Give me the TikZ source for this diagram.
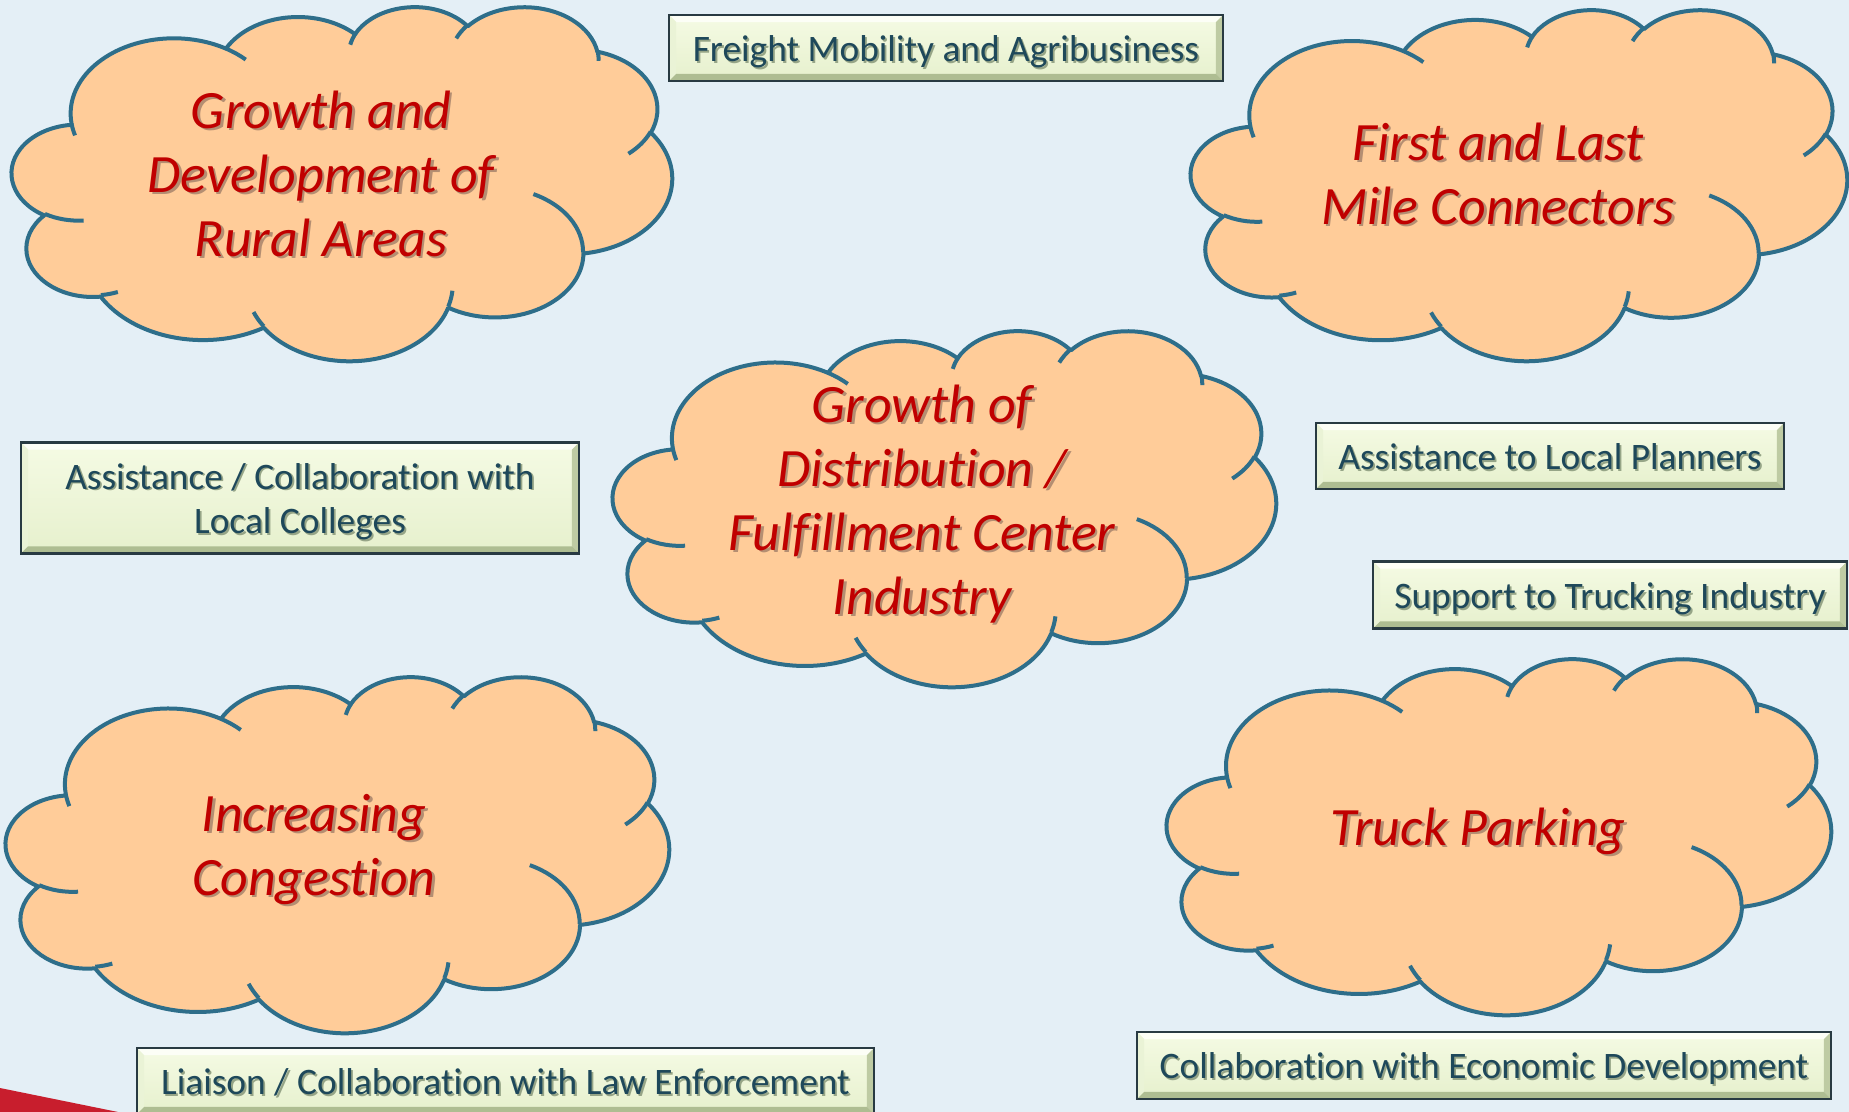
\documentclass[tikz,border=0pt]{standalone}
\usepackage{fontspec}
\setmainfont{Carlito}[Ligatures=NoCommon]
\usetikzlibrary{calc}

% colours
\definecolor{pagebg}{RGB}{228,239,246}
\definecolor{cloudfill}{RGB}{255,204,153}
\definecolor{cloudedge}{RGB}{46,110,138}
\definecolor{cloudtext}{RGB}{192,0,0}
\definecolor{cloudshade}{RGB}{180,142,114}
\definecolor{boxedge}{RGB}{40,58,66}
\definecolor{boxtext}{RGB}{30,72,90}
\definecolor{boxshade}{RGB}{150,165,135}
\definecolor{facetop}{RGB}{245,251,228}
\definecolor{facebot}{RGB}{230,240,205}
\definecolor{beveltop}{RGB}{252,254,246}
\definecolor{bevelleft}{RGB}{234,243,214}
\definecolor{bevelright}{RGB}{190,203,163}
\definecolor{bevelbot}{RGB}{174,189,146}
\definecolor{cornerred}{RGB}{200,30,45}

% one elliptic arc of the cloud outline; angles are measured on the ellipse
% (visual angles) and turned into parametric ones for TikZ
\newcommand\defcloudarc[5]{%
  \pgfmathsetmacro\cwr{(#2)/432}%
  \pgfmathsetmacro\chr{(#3)/432}%
  \pgfmathsetmacro\cta{atan2((#2)*sin(#4),(#3)*cos(#4))}%
  \pgfmathsetmacro\cte{atan2((#2)*sin((#4)+(#5)),(#3)*cos((#4)+(#5)))}%
  \pgfmathsetmacro\ctd{\cte-\cta}%
  \ifdim\ctd pt<0pt \pgfmathsetmacro\ctd{\ctd+360}\fi
  \expandafter\xdef\csname cloudarc#1\endcsname{arc[x radius=\cwr pt, y radius=\chr pt, start angle=\cta, delta angle=\ctd]}%
}
% outer outline
\defcloudarc{A}{6753}{9190}{-190.48748}{123.78053}
\defcloudarc{B}{5333}{7267}{-144.10238}{89.94523}
\defcloudarc{C}{4365}{5945}{-145.80792}{99.72302}
\defcloudarc{D}{4857}{6595}{-130.98607}{117.24173}
\defcloudarc{E}{5333}{7273}{-78.70888}{109.02692}
\defcloudarc{F}{6775}{9220}{-46.26725}{130.269}
\defcloudarc{G}{5785}{7867}{0.62502}{114.03333}
\defcloudarc{H}{6752}{9215}{22.4516}{115.17255}
\defcloudarc{I}{7720}{10543}{66.24263}{75.71102}
\defcloudarc{J}{4360}{5918}{-274.94208}{146.73557}
\defcloudarc{K}{4345}{5945}{-246.8285}{152.51885}
% inner puff strokes
\defcloudarc{a}{4345}{5945}{86.742}{26.4295}
\defcloudarc{b}{4360}{5918}{73.61047}{11.44747}
\defcloudarc{c}{6752}{9215}{137.62415}{14.0811}
\defcloudarc{d}{6752}{9215}{6.45327}{15.99835}
\defcloudarc{e}{5785}{7867}{-70.29235}{70.91737}
\defcloudarc{f}{5333}{7273}{30.31803}{27.7515}
\defcloudarc{g}{4857}{6595}{-13.74433}{14.8589}
\defcloudarc{h}{4857}{6595}{-149.18145}{18.19537}
\defcloudarc{i}{4365}{5945}{-163.49427}{17.68635}
\defcloudarc{j}{6753}{9190}{-66.70695}{12.31935}
\defcloudarc{k}{6753}{9190}{157.65435}{11.85817}

% cloud in a box: left, top, width, height (px)
\newcommand\drawcloud[4]{%
  \begin{scope}[shift={(#1,#2)}, xscale=#3/200, yscale=-#4/200]
    \filldraw[cloudbody] (9.0278pt,33.2639pt) \cloudarcA \cloudarcB \cloudarcC
      \cloudarcD \cloudarcE \cloudarcF \cloudarcG \cloudarcH \cloudarcI
      \cloudarcJ \cloudarcK -- cycle;
    \draw[cloudbody, fill=none]
      (10.8634pt,60.5949pt) \cloudarca
      (16.0370pt,80.7847pt) \cloudarcb
      (38.1435pt,90.4861pt) \cloudarcc
      (66.7292pt,80.4421pt) \cloudarcd
      (79.0023pt,53.1343pt) \cloudarce
      (96.7546pt,35.5417pt) \cloudarcf
      (88.7130pt,12.5602pt) \cloudarcg
      (67.3102pt,9.1481pt) \cloudarch
      (51.2523pt,10.9259pt) \cloudarci
      (32.4074pt,12.0185pt) \cloudarcj
      (9.5532pt,36.5486pt) \cloudarck;
  \end{scope}}

% text with a soft offset shadow; every line gets the same height and depth,
% and the glyphs sit a little below the strut's centre
\newcommand\shc[1]{\leavevmode\rule[-0.25em]{0pt}{0.89em}\raisebox{-0.12em}[0pt][0pt]{\rlap{\hspace{1.3pt}\raisebox{-1.3pt}{\textcolor{cloudshade}{#1}}}#1}}
\newcommand\shb[1]{\leavevmode\rule[-0.25em]{0pt}{0.89em}\raisebox{-0.165em}[0pt][0pt]{\rlap{\hspace{0.9pt}\raisebox{-0.9pt}{\textcolor{boxshade}{#1}}}#1}}

\newcommand\bv{3.6pt}
\def\ppb{path picture bounding box}

\tikzset{
  cloudbody/.style={draw=cloudedge, fill=cloudfill, line width=2pt, line join=round},
  cloudlabel/.style={text=cloudtext, align=center, inner sep=0pt,
    font=\fontsize{27}{32}\selectfont\itshape},
  bevelbox/.style={draw=boxedge, line width=1.2pt, top color=facetop, bottom color=facebot,
    inner sep=0pt, align=center, text=boxtext, font=\fontsize{18.7}{22.4}\selectfont,
    path picture={
      \fill[beveltop] (\ppb.north west) -- (\ppb.north east)
        -- ([shift={(-\bv,-\bv)}]\ppb.north east) -- ([shift={(\bv,-\bv)}]\ppb.north west) -- cycle;
      \fill[bevelleft] (\ppb.north west) -- ([shift={(\bv,-\bv)}]\ppb.north west)
        -- ([shift={(\bv,\bv)}]\ppb.south west) -- (\ppb.south west) -- cycle;
      \fill[bevelright] (\ppb.north east) -- (\ppb.south east)
        -- ([shift={(-\bv,\bv)}]\ppb.south east) -- ([shift={(-\bv,-\bv)}]\ppb.north east) -- cycle;
      \fill[bevelbot] (\ppb.south west) -- ([shift={(\bv,\bv)}]\ppb.south west)
        -- ([shift={(-\bv,\bv)}]\ppb.south east) -- (\ppb.south east) -- cycle;
    }},
}

\begin{document}
\begin{tikzpicture}[x=0.5pt, y=-0.5pt]
  \useasboundingbox (0,0) rectangle (1849,1112);
  \fill[pagebg] (0,0) rectangle (1849,1112);
  \fill[cornerred] (0,1088) -- (118,1112) -- (0,1112) -- cycle;

  % clouds
  \drawcloud{12}{6}{660}{354}
  \drawcloud{1191}{9}{656}{351}
  \drawcloud{613}{330}{663}{356}
  \drawcloud{6}{676}{663}{356}
  \drawcloud{1167}{658}{664}{356}

  \node[cloudlabel] (rural) at (321,175) {\shc{Growth and}\\\shc{Development of}\\\shc{Rural Areas}};
  \node[cloudlabel] (lastmile) at (1498,175) {\shc{First and Last}\\\shc{Mile Connectors}};
  \node[cloudlabel] (fulfil) at (922,501) {\shc{Growth of}\\\shc{Distribution /}\\\shc{Fulfillment Center}\\\shc{Industry}};
  \node[cloudlabel] (congestion) at (314,846) {\shc{Increasing}\\\shc{Congestion}};
  \node[cloudlabel] (parking) at (1478,828) {\shc{Truck Parking}};

  % bevelled boxes
  \node[bevelbox, minimum width=277pt, minimum height=33pt] (freight) at (946,48)
    {\shb{Freight Mobility and Agribusiness}};
  \node[bevelbox, minimum width=279pt, minimum height=55.5pt] (colleges) at (300,498)
    {\shb{Assistance / Collaboration with}\\\shb{Local Colleges}};
  \node[bevelbox, minimum width=234pt, minimum height=33pt] (planners) at (1550,456)
    {\shb{Assistance to Local Planners}};
  \node[bevelbox, minimum width=237pt, minimum height=33.5pt] (trucking) at (1610,595)
    {\shb{Support to Trucking Industry}};
  \node[bevelbox, minimum width=368.5pt, minimum height=33pt] (lawenf) at (505.5,1081)
    {\shb{Liaison / Collaboration with Law Enforcement}};
  \node[bevelbox, minimum width=347pt, minimum height=33.5pt] (econdev) at (1484,1065.5)
    {\shb{Collaboration with Economic Development}};
\end{tikzpicture}
\end{document}
